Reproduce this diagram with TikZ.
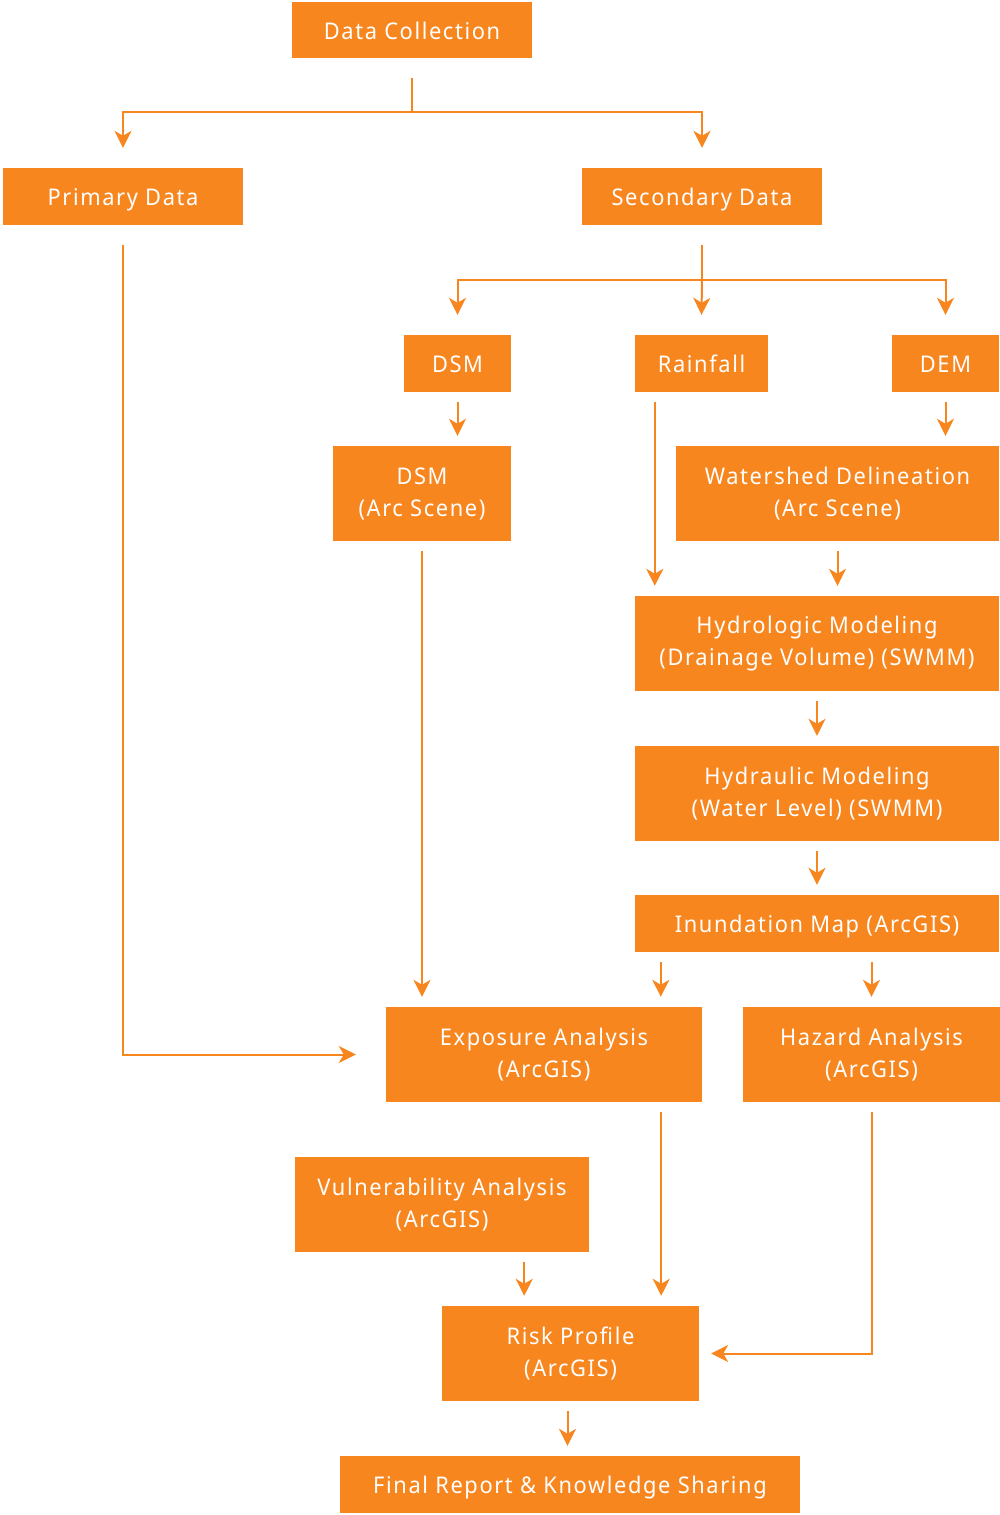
\documentclass[tikz,border=0pt]{standalone}
\usepackage{fontspec}
\setmainfont{Noto Sans}[FakeStretch=0.95,LetterSpace=7]
\usetikzlibrary{arrows.meta,calc}
\definecolor{orng}{HTML}{F7861F}
\begin{document}
\begin{tikzpicture}[x=1pt,y=-1pt,
  box/.style={fill=orng,text=white,inner sep=0pt,align=center,
    font=\fontsize{23}{32}\selectfont,anchor=center},
  oneline/.style={text height=20pt,text depth=2pt},
  arr/.style={draw=orng,line width=2pt,-{Stealth[length=17pt,width=17pt,inset=5pt]}},
  ln/.style={draw=orng,line width=2pt}]
\useasboundingbox (0,0) rectangle (1000,1515);
\newcommand{\bx}[6][]{%
  \pgfmathsetmacro{\bxw}{#5-#3}\pgfmathsetmacro{\bxh}{#6-#4}%
  \pgfmathsetmacro{\bxx}{(#3+#5)/2}\pgfmathsetmacro{\bxy}{(#4+#6)/2}%
  \node[box,#1,minimum width=\bxw pt,minimum height=\bxh pt] (#2) at (\bxx,\bxy)}
\bx[oneline]{dc}{292}{2}{532}{58}{Data Collection};
\bx[oneline]{pd}{3}{168}{243}{225}{Primary Data};
\bx[oneline]{sd}{582}{168}{822}{225}{Secondary Data};
\bx[oneline]{dsm}{404}{335}{511}{392}{DSM};
\bx[oneline]{rain}{635}{335}{768}{392}{Rainfall};
\bx[oneline]{dem}{892}{335}{999}{392}{DEM};
\bx{dsma}{333}{446}{511}{541}{DSM\\(Arc Scene)};
\bx{ws}{676}{446}{999}{541}{Watershed Delineation\\(Arc Scene)};
\bx{hyd}{635}{596}{999}{691}{Hydrologic Modeling\\(Drainage Volume) (SWMM)};
\bx{hydr}{635}{746}{999}{841}{Hydraulic Modeling\\(Water Level) (SWMM)};
\bx[oneline]{inu}{635}{895}{999}{952}{Inundation Map (ArcGIS)};
\bx{exp}{386}{1007}{702}{1102}{Exposure Analysis\\(ArcGIS)};
\bx{haz}{743}{1007}{1000}{1102}{Hazard Analysis\\(ArcGIS)};
\bx{vul}{295}{1157}{589}{1252}{Vulnerability Analysis\\(ArcGIS)};
\bx{risk}{442}{1306}{699}{1401}{Risk Profile\\(ArcGIS)};
\bx[oneline]{fin}{340}{1456}{800}{1513}{Final Report \& Knowledge Sharing};
% Data collection split
\coordinate (dcj) at ([yshift=-54pt]dc.south);
\draw[ln] ([yshift=-20pt]dc.south) -- (dcj);
\draw[arr] (dcj) -| ([yshift=20pt]pd.north);
\draw[arr] (dcj) -| ([yshift=20pt]sd.north);
% Secondary split
\coordinate (sdj) at ([yshift=-55pt]sd.south);
\draw[ln] ([yshift=-20pt]sd.south) -- (sdj);
\draw[arr] (sdj) -| ([yshift=20pt]dsm.north);
\draw[arr] (sdj) -- ([yshift=20pt]rain.north);
\draw[arr] (sdj) -| ([yshift=20pt]dem.north);
% simple vertical arrows
\draw[arr] ([yshift=-10pt]dsm.south) -- ([yshift=10pt]dsm.south |- dsma.north);
\draw[arr] ([yshift=-10pt]dem.south) -- ([yshift=10pt]dem.south |- ws.north);
\draw[arr] ([xshift=20pt,yshift=-10pt]rain.south west) -- ([xshift=20pt,yshift=10pt]rain.south west |- hyd.north);
\draw[arr] ([yshift=-10pt]ws.south) -- ([yshift=10pt]ws.south |- hyd.north);
\draw[arr] ([yshift=-10pt]hyd.south) -- ([yshift=10pt]hydr.north);
\draw[arr] ([yshift=-10pt]hydr.south) -- ([yshift=10pt]inu.north);
\draw[arr] ([xshift=26pt,yshift=-10pt]inu.south west) -- ([xshift=26pt,yshift=10pt]inu.south west |- exp.north);
\draw[arr] ([yshift=-10pt]haz.north |- inu.south) -- ([yshift=10pt]haz.north);
\draw[arr] ([yshift=-10pt]dsma.south) -- ([yshift=10pt]dsma.south |- exp.north);
\draw[arr] ([yshift=-20pt]pd.south) |- ([xshift=-30pt]exp.west);
\draw[arr] ([xshift=-41pt,yshift=-10pt]exp.south east) -- ([xshift=-41pt,yshift=10pt]exp.south east |- risk.north);
\draw[arr] ([xshift=-65pt,yshift=-10pt]vul.south east) -- ([xshift=-65pt,yshift=10pt]vul.south east |- risk.north);
\draw[arr] ([yshift=-10pt]haz.south) |- ([xshift=12pt]risk.east);
\draw[arr] ([xshift=-3pt,yshift=-10pt]risk.south) -- ([xshift=-3pt,yshift=10pt]risk.south |- fin.north);
\end{tikzpicture}
\end{document}
